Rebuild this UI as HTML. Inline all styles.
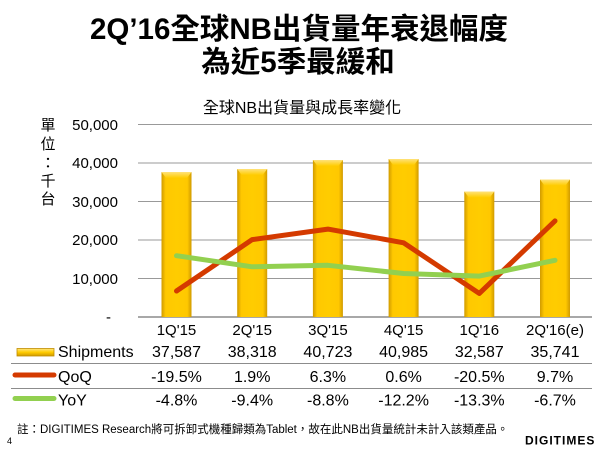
<!DOCTYPE html>
<html>
<head>
<meta charset="utf-8">
<style>
html,body{margin:0;padding:0;background:#fff;}
svg{display:block;}
text{font-family:"Liberation Sans","Noto Sans CJK TC",sans-serif;fill:#000;}
</style>
</head>
<body>
<svg width="600" height="450" viewBox="0 0 600 450" xmlns="http://www.w3.org/2000/svg">
<defs>
<linearGradient id="bar" x1="0" y1="0" x2="1" y2="0">
<stop offset="0" stop-color="#d09a00"/>
<stop offset="0.14" stop-color="#ffc800"/>
<stop offset="0.5" stop-color="#ffcc00"/>
<stop offset="0.86" stop-color="#ffc800"/>
<stop offset="1" stop-color="#d09a00"/>
</linearGradient>
<linearGradient id="bartop" x1="0" y1="0" x2="0" y2="1">
<stop offset="0" stop-color="#ffe27a"/>
<stop offset="1" stop-color="#ffcc00"/>
</linearGradient>
<linearGradient id="sw" x1="0" y1="0" x2="0" y2="1">
<stop offset="0" stop-color="#ffe680"/>
<stop offset="0.5" stop-color="#ffcc00"/>
<stop offset="1" stop-color="#d09a00"/>
</linearGradient>
</defs>

<!-- Title -->
<text x="299" y="39" font-size="29.5" font-weight="bold" text-anchor="middle">2Q’16全球NB出貨量年衰退幅度</text>
<text x="298" y="72" font-size="29.5" font-weight="bold" text-anchor="middle">為近5季最緩和</text>
<text x="302" y="113" font-size="16" text-anchor="middle">全球NB出貨量與成長率變化</text>

<!-- Unit label -->
<g font-size="15" text-anchor="middle">
<text x="48" y="130">單</text>
<text x="48" y="149">位</text>
<text x="48" y="168">：</text>
<text x="48" y="186">千</text>
<text x="48" y="204">台</text>
</g>

<!-- Gridlines -->
<g stroke="#999999" stroke-width="1">
<line x1="138" y1="124.5" x2="592" y2="124.5"/>
<line x1="138" y1="163" x2="592" y2="163"/>
<line x1="138" y1="201.5" x2="592" y2="201.5"/>
<line x1="138" y1="240" x2="592" y2="240"/>
<line x1="138" y1="278.5" x2="592" y2="278.5"/>
</g>
<line x1="138" y1="317" x2="592" y2="317" stroke="#8c8c8c" stroke-width="1.5"/>

<!-- Y tick labels -->
<g font-size="15" text-anchor="end">
<text x="118" y="130">50,000</text>
<text x="118" y="168">40,000</text>
<text x="118" y="207">30,000</text>
<text x="118" y="245">20,000</text>
<text x="118" y="284">10,000</text>
<text x="111" y="322">-</text>
</g>

<!-- Bars -->
<g>
<rect x="161.5" y="172" width="30" height="145" fill="url(#bar)"/>
<polygon points="161.5,172 191.5,172 187,178 166,178" fill="url(#bartop)"/>
<rect x="237.2" y="169" width="30" height="148" fill="url(#bar)"/>
<polygon points="237.2,169 267.2,169 262.7,175 241.7,175" fill="url(#bartop)"/>
<rect x="312.9" y="160" width="30" height="157" fill="url(#bar)"/>
<polygon points="312.9,160 342.9,160 338.4,166 317.4,166" fill="url(#bartop)"/>
<rect x="388.6" y="159" width="30" height="158" fill="url(#bar)"/>
<polygon points="388.6,159 418.6,159 414.1,165 393.1,165" fill="url(#bartop)"/>
<rect x="464.3" y="191.5" width="30" height="125.5" fill="url(#bar)"/>
<polygon points="464.3,191.5 494.3,191.5 489.8,197.5 468.8,197.5" fill="url(#bartop)"/>
<rect x="540" y="179.5" width="30" height="137.5" fill="url(#bar)"/>
<polygon points="540,179.5 570,179.5 565.5,185.5 544.5,185.5" fill="url(#bartop)"/>
</g>

<!-- Lines -->
<polyline points="176.5,291 252.2,239.6 327.9,229.1 403.6,242.8 479.3,293.4 555,220.9" fill="none" stroke="#d43a00" stroke-width="5" stroke-linejoin="round" stroke-linecap="round"/>
<polyline points="176.5,255.7 252.2,266.8 327.9,265.3 403.6,273.5 479.3,276.1 555,260.3" fill="none" stroke="#92d050" stroke-width="5" stroke-linejoin="round" stroke-linecap="round"/>

<!-- Category labels -->
<g font-size="15" text-anchor="middle">
<text x="176.5" y="335">1Q'15</text>
<text x="252.2" y="335">2Q'15</text>
<text x="327.9" y="335">3Q'15</text>
<text x="403.6" y="335">4Q'15</text>
<text x="479.3" y="335">1Q'16</text>
<text x="555" y="335">2Q'16(e)</text>
</g>

<!-- Table -->
<line x1="11" y1="363.5" x2="592" y2="363.5" stroke="#8c8c8c" stroke-width="1"/>
<line x1="11" y1="388.5" x2="592" y2="388.5" stroke="#8c8c8c" stroke-width="1"/>

<rect x="17" y="348.5" width="37" height="7.5" fill="url(#sw)" stroke="#c08c00" stroke-width="0.8"/>
<line x1="15" y1="375" x2="54" y2="375" stroke="#d43a00" stroke-width="5" stroke-linecap="round"/>
<line x1="15" y1="398.5" x2="54" y2="398.5" stroke="#92d050" stroke-width="5" stroke-linecap="round"/>

<g font-size="16">
<text x="58" y="357">Shipments</text>
<text x="58" y="382">QoQ</text>
<text x="58" y="405.5">YoY</text>
</g>
<g font-size="16" text-anchor="middle">
<text x="176.5" y="357">37,587</text>
<text x="252.2" y="357">38,318</text>
<text x="327.9" y="357">40,723</text>
<text x="403.6" y="357">40,985</text>
<text x="479.3" y="357">32,587</text>
<text x="555" y="357">35,741</text>

<text x="176.5" y="382">-19.5%</text>
<text x="252.2" y="382">1.9%</text>
<text x="327.9" y="382">6.3%</text>
<text x="403.6" y="382">0.6%</text>
<text x="479.3" y="382">-20.5%</text>
<text x="555" y="382">9.7%</text>

<text x="176.5" y="405.5">-4.8%</text>
<text x="252.2" y="405.5">-9.4%</text>
<text x="327.9" y="405.5">-8.8%</text>
<text x="403.6" y="405.5">-12.2%</text>
<text x="479.3" y="405.5">-13.3%</text>
<text x="555" y="405.5">-6.7%</text>
</g>

<!-- Footer -->
<text x="17" y="433" font-size="11.5">註：DIGITIMES Research將可拆卸式機種歸類為Tablet，故在此NB出貨量統計未計入該類產品。</text>
<text x="7" y="444" font-size="9">4</text>
<text x="525" y="444.5" font-size="12" font-weight="bold" letter-spacing="1" fill="#222">DIGITIMES</text>
</svg>
</body>
</html>
